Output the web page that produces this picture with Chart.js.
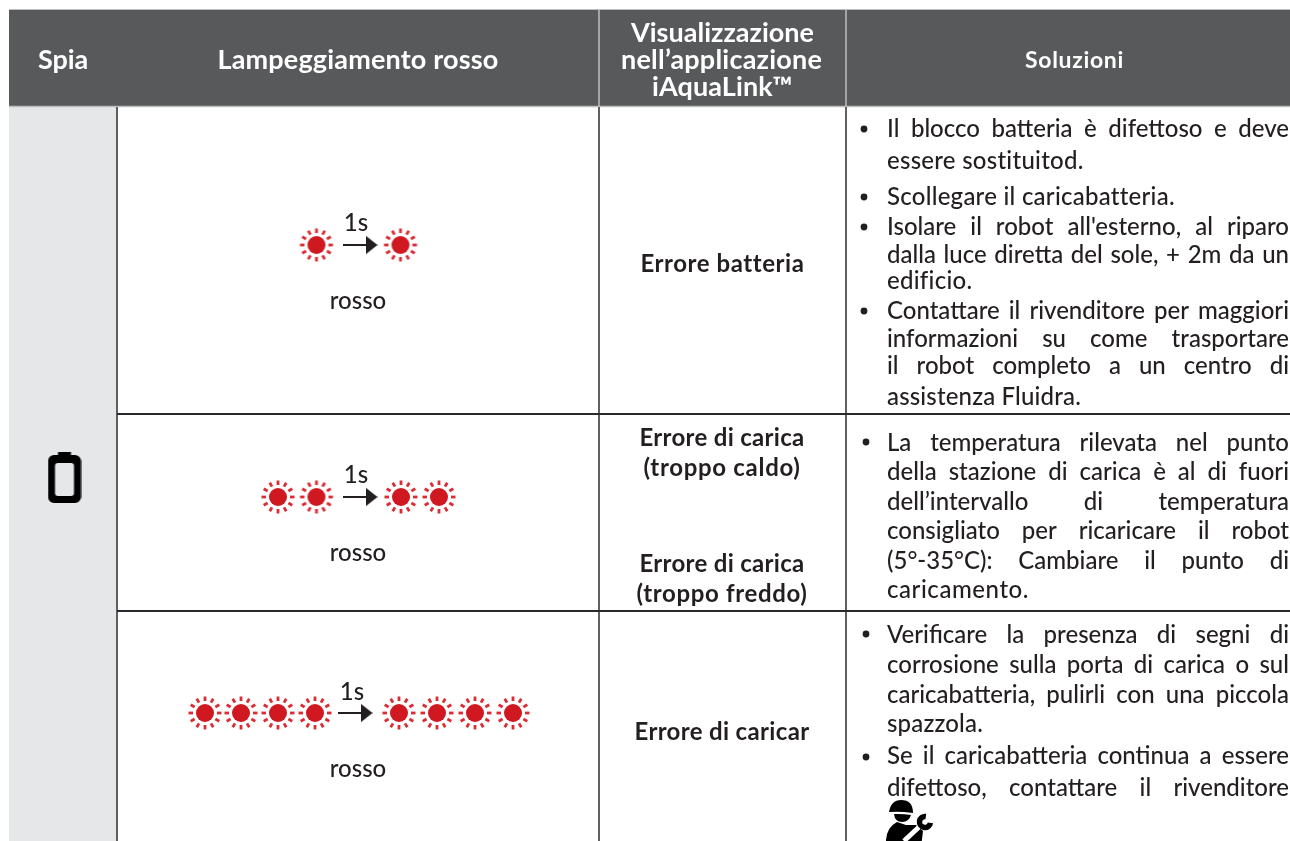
<!DOCTYPE html>
<html lang="it">
<head>
<meta charset="utf-8">
<title>Spia - Lampeggiamento rosso</title>
<script src="https://cdn.jsdelivr.net/npm/chart.js@4/dist/chart.umd.min.js"></script>
<style>
  html, body { margin: 0; padding: 0; background: #fff; overflow: hidden; }
  canvas { display: block; }
</style>
</head>
<body>
<canvas id="tableChart" width="1290" height="841"></canvas>
<script>
// Table content
const headerLabels = ['Spia', 'Lampeggiamento rosso', 'Visualizzazione', 'nell\u2019applicazione', 'iAquaLink\u2122', 'Soluzioni'];
const flashLabels = ['1s', 'rosso'];
const errorLabels = ['Errore batteria', 'Errore di carica', '(troppo caldo)', 'Errore di carica', '(troppo freddo)', 'Errore di caricar'];
const solutionLines = [
  'Il blocco batteria \u00e8 difettoso e deve',
  'essere sostituitod.',
  'Scollegare il caricabatteria.',
  'Isolare il robot all\'esterno, al riparo',
  'dalla luce diretta del sole, + 2m da un',
  'edificio.',
  'Contattare il rivenditore per maggiori',
  'informazioni su come trasportare',
  'il robot completo a un centro di',
  'assistenza Fluidra.',
  'La temperatura rilevata nel punto',
  'della stazione di carica \u00e8 al di fuori',
  'dell\u2019intervallo di temperatura',
  'consigliato per ricaricare il robot',
  '(5\u00b0-35\u00b0C): Cambiare il punto di',
  'caricamento.',
  'Verificare la presenza di segni di',
  'corrosione sulla porta di carica o sul',
  'caricabatteria, pulirli con una piccola',
  'spazzola.',
  'Se il caricabatteria continua a essere',
  'difettoso, contattare il rivenditore'
];
// lines that do not run to the right edge, with where they stop
const raggedEnds = { 1: 1084, 2: 1174, 5: 972, 9: 1081, 15: 1029, 19: 983 };

// Grid, in page units of the hidden axes
const columnEdges = [9, 117, 599, 846, 1290];
const rowEdges = [107, 414, 611, 841];
const headerTop = 10;

// Baselines
const solutionBaselines = [137, 169, 205, 235, 263, 289, 319, 347, 374, 405, 451, 480, 510, 539, 569, 598, 643, 673, 703, 732, 764, 796];
const errorBaselines = [272, 446, 476, 572, 602, 740];
const errorWidths = [163, 165, 157, 165, 171, 175];
const headerBaselines = [68.5, 68.5, 41.5, 69, 96, 68];
const headerCentres = [63, 358, 722.5, 721.5, 722.5, 1074.5];
const headerWidths = [50, 281, 183, 201, 141, 99];

// Red lights per row
const lightX = [[316.5, 400.5], [278, 316.5, 401, 439], [205, 241, 278, 315, 399, 437, 475, 513]];
const lightY = [245, 497, 713];
const arrowStart = [343, 343, 338];
const flashLabelY = [309, 561, 777];
const tickLabelX = [356, 356, 352];
const tickLabelY = [231, 483, 700];

const bulletX = [864, 864, 864, 864, 866, 866, 866];
const bulletY = [129, 197, 227, 311, 442, 634, 757];

const TEXT = '#231f20';
const HEADER = '#58595b';
const HEADER_RULE = '#bcbec0';
const SPIA_BG = '#e6e7e8';
const RULE = '#3a3a3c';
const RED = '#cf1820';

function makeSprite(w, h, draw) {
  const c = document.createElement('canvas');
  c.width = w;
  c.height = h;
  draw(c.getContext('2d'));
  return c;
}

const lightSprite = makeSprite(36, 36, g => {
  g.translate(18, 18);
  g.fillStyle = RED;
  g.beginPath();
  g.arc(0, 0, 9, 0, Math.PI * 2);
  g.fill();
  g.strokeStyle = '#da2c33';
  g.lineWidth = 2.8;
  for (let i = 0; i < 12; i++) {
    const a = i * Math.PI / 6;
    g.beginPath();
    g.moveTo(Math.cos(a) * 12, Math.sin(a) * 12);
    g.lineTo(Math.cos(a) * 16.5, Math.sin(a) * 16.5);
    g.stroke();
  }
});

const arrowSprite = makeSprite(12, 20, g => {
  g.fillStyle = TEXT;
  g.beginPath();
  g.moveTo(0, 0.5);
  g.lineTo(12, 10);
  g.lineTo(0, 19.5);
  g.closePath();
  g.fill();
});

const batterySprite = makeSprite(34, 52, g => {
  g.fillStyle = '#000';
  g.fillRect(10.5, 0, 13, 5);
  g.beginPath();
  g.roundRect(0.5, 3, 33, 48, 6);
  g.roundRect(7.5, 11, 19, 33, 3);
  g.fill('evenodd');
});

const mechanicSprite = makeSprite(50, 56, g => {
  g.fillStyle = '#000';
  // cap
  g.beginPath();
  g.moveTo(3, 12);
  g.quadraticCurveTo(5, 0, 15, 0);
  g.quadraticCurveTo(27, 0, 27, 13);
  g.quadraticCurveTo(14, 11, 3, 12);
  g.fill();
  // face
  g.beginPath();
  g.moveTo(8, 14);
  g.quadraticCurveTo(16, 13.5, 25, 15);
  g.quadraticCurveTo(23, 22, 16, 22);
  g.quadraticCurveTo(9, 22, 8, 14);
  g.fill();
  // body
  g.beginPath();
  g.moveTo(0, 56);
  g.lineTo(0, 40);
  g.quadraticCurveTo(1, 27, 11, 22);
  g.lineTo(20, 25);
  g.lineTo(30, 25);
  g.lineTo(37, 31);
  g.lineTo(34, 56);
  g.closePath();
  g.fill();
  // spanner handle
  g.strokeStyle = '#fff';
  g.lineWidth = 5;
  g.beginPath();
  g.moveTo(18, 41);
  g.lineTo(33, 27);
  g.stroke();
  // spanner head
  g.strokeStyle = '#000';
  g.lineWidth = 5.5;
  g.beginPath();
  g.arc(39, 22, 5.5, 0.05 * Math.PI, 1.55 * Math.PI);
  g.stroke();
});

function segment(x1, y1, x2, y2, color, width) {
  return {
    type: 'scatter',
    showLine: true,
    data: [{ x: x1, y: y1 }, { x: x2, y: y2 }],
    borderColor: color,
    borderWidth: width,
    pointRadius: 0
  };
}

function band(x1, x2, y1, y2, color) {
  return {
    type: 'scatter',
    showLine: true,
    data: [{ x: x1, y: y1 }, { x: x2, y: y1 }],
    borderWidth: 0,
    borderColor: color,
    backgroundColor: color,
    pointRadius: 0,
    fill: { value: y2 }
  };
}

function marker(points, style, radius, color) {
  return {
    type: 'scatter',
    data: points,
    pointStyle: style,
    pointRadius: radius,
    pointBackgroundColor: color,
    pointBorderWidth: 0
  };
}

const datasets = [];

// marks on top
lightX.forEach((xs, i) => {
  datasets.push(marker(xs.map(x => ({ x: x, y: lightY[i] })), lightSprite, 18));
  datasets.push(marker([{ x: arrowStart[i] + 28.5, y: lightY[i] }], arrowSprite, 10));
  datasets.push(segment(arrowStart[i], lightY[i], arrowStart[i] + 24, lightY[i], TEXT, 2));
});
datasets.push(marker(bulletX.map((x, i) => ({ x: x, y: bulletY[i] })), 'circle', 3.4, TEXT));
datasets.push(marker([{ x: 64.5, y: 478 }], batterySprite, 20));
datasets.push(marker([{ x: 911, y: 828 }], mechanicSprite, 20));

// rules
rowEdges.slice(1, 3).forEach(y => datasets.push(segment(columnEdges[1], y, columnEdges[4], y, '#29292b', 2)));
columnEdges.slice(1, 4).forEach(x => datasets.push(segment(x, rowEdges[0], x, rowEdges[3], RULE, 1.6)));
columnEdges.slice(2, 4).forEach(x => datasets.push(segment(x, headerTop, x, rowEdges[0], HEADER_RULE, 1.5)));
datasets.push(segment(columnEdges[0], headerTop - 0.5, columnEdges[4], headerTop - 0.5, HEADER_RULE, 1.2));
datasets.push(segment(columnEdges[0], rowEdges[0] - 0.5, columnEdges[4], rowEdges[0] - 0.5, HEADER_RULE, 1.5));

// fills underneath
datasets.push(band(columnEdges[0], columnEdges[4], headerTop, rowEdges[0], HEADER));
datasets.push(band(columnEdges[0], columnEdges[1], rowEdges[0], rowEdges[3], SPIA_BG));

// stretches a line to the width it has in the table
function fitText(ctx, text, x, y, width) {
  ctx.letterSpacing = '0px';
  const natural = ctx.measureText(text).width;
  ctx.letterSpacing = ((width - natural) / text.length).toFixed(3) + 'px';
  ctx.fillText(text, x, y);
  ctx.letterSpacing = '0px';
}

const tableText = {
  id: 'tableText',
  afterDatasetsDraw(chart) {
    const ctx = chart.ctx;
    const sx = v => chart.scales.x.getPixelForValue(v);
    const sy = v => chart.scales.y.getPixelForValue(v);
    ctx.save();
    ctx.textBaseline = 'alphabetic';

    // header
    ctx.fillStyle = '#fff';
    headerLabels.forEach((label, i) => {
      ctx.font = (i === 5 ? 'bold 23px' : 'bold 27px') + ' Lato';
      const w = headerWidths[i];
      ctx.textAlign = 'left';
      fitText(ctx, label, sx(headerCentres[i] - w / 2), sy(headerBaselines[i]), w);
    });

    // flash column
    ctx.fillStyle = TEXT;
    ctx.font = '500 24px Lato';
    ctx.textAlign = 'center';
    lightY.forEach((y, i) => {
      ctx.fillText(flashLabels[0], sx(tickLabelX[i]), sy(tickLabelY[i]));
      ctx.fillText(flashLabels[1], sx(358), sy(flashLabelY[i]));
    });

    // app column
    ctx.font = 'bold 24px Lato';
    ctx.textAlign = 'left';
    errorLabels.forEach((label, i) => {
      const w = errorWidths[i];
      fitText(ctx, label, sx(722 - w / 2), sy(errorBaselines[i]), w);
    });

    // solutions, justified like the printed column
    ctx.font = '500 24px Lato';
    const left = 887;
    const right = 1289;
    solutionLines.forEach((line, i) => {
      const y = sy(solutionBaselines[i]);
      if (raggedEnds[i]) {
        fitText(ctx, line, sx(left), y, raggedEnds[i] - left);
      } else {
        const gaps = line.split(' ').length - 1;
        ctx.wordSpacing = '0px';
        const natural = ctx.measureText(line).width;
        ctx.wordSpacing = ((right - left - natural) / gaps).toFixed(3) + 'px';
        ctx.fillText(line, sx(left), y);
        ctx.wordSpacing = '0px';
      }
    });
    ctx.restore();
  }
};

new Chart(document.getElementById('tableChart'), {
  type: 'scatter',
  data: { datasets: datasets },
  plugins: [tableText],
  options: {
    responsive: false,
    animation: false,
    events: [],
    layout: { padding: 0, autoPadding: false },
    plugins: { legend: { display: false }, tooltip: { enabled: false }, title: { display: false } },
    scales: {
      x: { type: 'linear', min: 0, max: 1290, display: false },
      y: { type: 'linear', min: 0, max: 841, reverse: true, display: false }
    }
  }
});
</script>
</body>
</html>
